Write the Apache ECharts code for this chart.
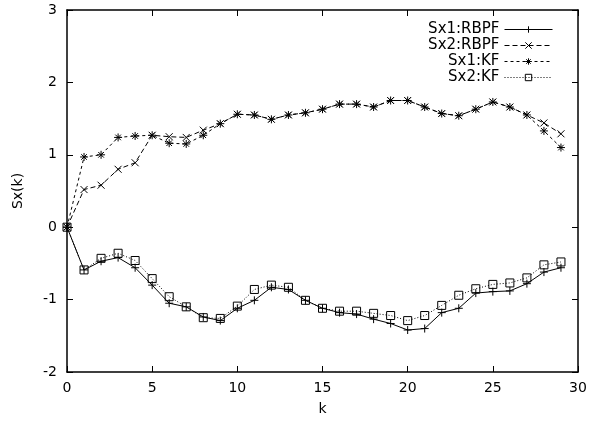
<!DOCTYPE html>
<html>
<head>
<meta charset="utf-8">
<script src="https://cdn.jsdelivr.net/npm/echarts@6/dist/echarts.min.js"></script>
<style>
html, body { margin: 0; padding: 0; background: #fff; }
#main { width: 592px; height: 425px; }
</style>
</head>
<body>
<div id="main"></div>
<script>
// k = 0..29
var ks = [];
for (var i = 0; i < 30; i++) ks.push(i);

var sx1Rbpf = [0, -0.59, -0.47, -0.42, -0.56, -0.80, -1.05, -1.10, -1.24, -1.29,
  -1.12, -1.01, -0.83, -0.86, -1.01, -1.12, -1.18, -1.20, -1.27, -1.33,
  -1.42, -1.40, -1.18, -1.12, -0.91, -0.89, -0.88, -0.78, -0.62, -0.56];
var sx2Rbpf = [0, 0.52, 0.58, 0.80, 0.89, 1.27, 1.25, 1.24, 1.34, 1.43,
  1.56, 1.55, 1.49, 1.55, 1.58, 1.63, 1.70, 1.70, 1.66, 1.75,
  1.75, 1.66, 1.57, 1.54, 1.63, 1.73, 1.66, 1.55, 1.44, 1.29];
var sx1Kf = [0, 0.97, 1.00, 1.24, 1.26, 1.27, 1.16, 1.15, 1.27, 1.43,
  1.56, 1.55, 1.49, 1.55, 1.58, 1.63, 1.70, 1.70, 1.66, 1.75,
  1.75, 1.66, 1.57, 1.54, 1.63, 1.73, 1.66, 1.55, 1.33, 1.10];
var sx2Kf = [0, -0.59, -0.43, -0.36, -0.46, -0.71, -0.96, -1.10, -1.25, -1.26,
  -1.09, -0.86, -0.80, -0.83, -1.01, -1.12, -1.16, -1.16, -1.19, -1.22,
  -1.29, -1.22, -1.08, -0.94, -0.85, -0.79, -0.77, -0.70, -0.52, -0.48];

var seriesNames = ['Sx1:RBPF', 'Sx2:RBPF', 'Sx1:KF', 'Sx2:KF'];

function pairs(vals) {
  return ks.map(function (k, i) { return [k, vals[i]]; });
}

var plusSym = 'path://M5,0L5,10M0,5L10,5';
var crossSym = 'path://M0,0L10,10M10,0L0,10';
var starSym = 'path://M5,0L5,10M0,5L10,5M1.5,1.5L8.5,8.5M8.5,1.5L1.5,8.5';

var fontFam = 'DejaVu Sans';

function mkSeries(name, vals, sym, size, dash) {
  return {
    name: name,
    type: 'line',
    data: pairs(vals),
    symbol: sym,
    symbolSize: size,
    symbolKeepAspect: true,
    showAllSymbol: true,
    lineStyle: { color: '#000', width: 1, type: dash },
    itemStyle: { color: 'transparent', borderColor: '#000', borderWidth: 1 },
    emphasis: { disabled: true },
    animation: false
  };
}

var axisLineStyle = { color: '#000', width: 1.5 };
var tickStyle = { inside: true, length: 6, lineStyle: { color: '#000' } };

var myChart = echarts.init(document.getElementById('main'));
var option = {
  animation: false,
  grid: { left: 67, right: 14, top: 10, bottom: 53 },
  legend: {
    orient: 'vertical',
    right: 34,
    top: 17,
    align: 'right',
    itemWidth: 48,
    itemHeight: 8,
    itemGap: 1,
    data: seriesNames,
    lineStyle: { width: 1 },
    itemStyle: { borderWidth: 1 },
    textStyle: { fontFamily: fontFam, fontSize: 15, color: '#000', width: 80, align: 'right' }
  },
  xAxis: [{
    type: 'value', min: 0, max: 30, interval: 5,
    name: 'k', nameLocation: 'middle', nameGap: 30,
    nameTextStyle: { fontFamily: fontFam, fontSize: 14, color: '#000' },
    axisLine: { onZero: false, lineStyle: axisLineStyle },
    axisTick: tickStyle,
    axisLabel: { margin: 9, fontFamily: fontFam, fontSize: 14, color: '#000' },
    splitLine: { show: false }
  }, {
    type: 'value', min: 0, max: 30, interval: 5, position: 'top',
    axisLine: { onZero: false, lineStyle: axisLineStyle },
    axisTick: tickStyle,
    axisLabel: { show: false },
    splitLine: { show: false }
  }],
  yAxis: [{
    type: 'value', min: -2, max: 3, interval: 1,
    name: 'Sx(k)', nameLocation: 'middle', nameGap: 42,
    nameTextStyle: { fontFamily: fontFam, fontSize: 14, color: '#000' },
    axisLine: { show: true, onZero: false, lineStyle: axisLineStyle },
    axisTick: Object.assign({ show: true }, tickStyle),
    axisLabel: { margin: 10, fontFamily: fontFam, fontSize: 14, color: '#000' },
    splitLine: { show: false }
  }, {
    type: 'value', min: -2, max: 3, interval: 1, position: 'right',
    axisLine: { show: true, onZero: false, lineStyle: axisLineStyle },
    axisTick: Object.assign({ show: true }, tickStyle),
    axisLabel: { show: false },
    splitLine: { show: false }
  }],
  series: [
    mkSeries(seriesNames[0], sx1Rbpf, plusSym, 8, 'solid'),
    mkSeries(seriesNames[1], sx2Rbpf, crossSym, 7, [5, 3]),
    mkSeries(seriesNames[2], sx1Kf, starSym, 8, [3, 3]),
    mkSeries(seriesNames[3], sx2Kf, 'rect', 8, [1, 2])
  ]
};
myChart.setOption(option);
</script>
</body>
</html>
